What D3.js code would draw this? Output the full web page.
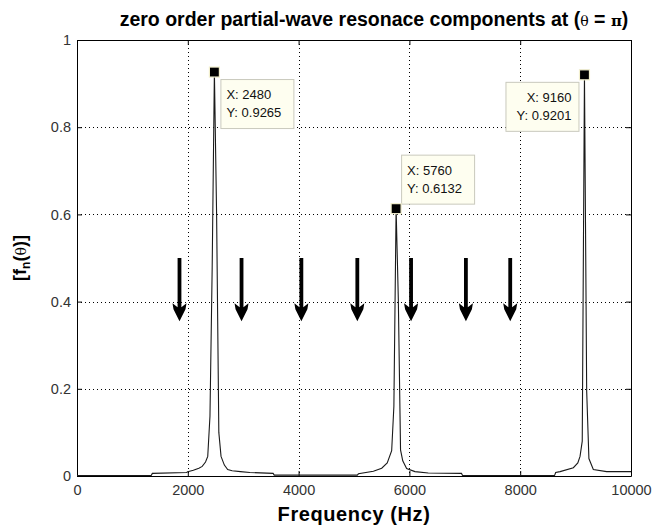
<!DOCTYPE html>
<html>
<head>
<meta charset="utf-8">
<script src="https://cdn.jsdelivr.net/npm/d3@7"></script>
<style>
  html, body { margin: 0; padding: 0; background: #fff; }
  svg { display: block; font-family: "Liberation Sans", Arial, sans-serif; }
</style>
</head>
<body>
<svg id="chart" width="652" height="527"></svg>
<script>
// ---- data ----
const frequency = [0, 1340, 1360, 1980, 2000, 2100, 2200, 2260, 2320, 2360, 2400, 2440, 2480, 2520, 2560, 2600, 2660, 2720, 2800, 2950, 3120, 3540, 3560,
  5060, 5080, 5350, 5500, 5600, 5680, 5720, 5760, 5800, 5840, 5880, 5950, 6100, 6340, 6940, 6960,
  8620, 8640, 8720, 8960, 9040, 9080, 9120, 9160, 9200, 9240, 9320, 9560, 10000];
const amplitude = [0.001, 0.001, 0.006, 0.008, 0.010, 0.013, 0.018, 0.022, 0.032, 0.045, 0.137, 0.477, 0.9265, 0.600, 0.100, 0.045, 0.025, 0.015, 0.012, 0.010, 0.008, 0.006, 0.002,
  0.002, 0.005, 0.011, 0.018, 0.030, 0.058, 0.160, 0.6132, 0.406, 0.060, 0.035, 0.017, 0.010, 0.007, 0.006, 0.001,
  0.001, 0.008, 0.010, 0.019, 0.030, 0.045, 0.080, 0.9201, 0.195, 0.040, 0.015, 0.010, 0.010];

const xTicks = [0, 2000, 4000, 6000, 8000, 10000];
const xTickLabels = ["0", "2000", "4000", "6000", "8000", "10000"];
const yTicks = [0, 0.2, 0.4, 0.6, 0.8, 1];
const yTickLabels = ["0", "0.2", "0.4", "0.6", "0.8", "1"];

const tipX = [2480, 5760, 9160];
const tipY = [0.9265, 0.6132, 0.9201];
const tipLabelX = ["X: 2480", "X: 5760", "X: 9160"];
const tipLabelY = ["Y: 0.9265", "Y: 0.6132", "Y: 0.9201"];

const arrowX = [1850, 2970, 4050, 5060, 6030, 7020, 7820];
const arrowTop = 0.5;
const arrowTip = 0.355;

const titleText = "zero order partial-wave resonace components at (";
const xLabel = "Frequency (Hz)";

// ---- layout ----
const svg = d3.select("#chart");
const L = 77, R = 631, T = 40, B = 476;
const x = d3.scaleLinear().domain([0, 10000]).range([L, R]);
const y = d3.scaleLinear().domain([0, 1]).range([B, T]);

// grid (dotted)
const grid = svg.append("g").attr("stroke", "#000").attr("stroke-width", 1).attr("stroke-dasharray", "1,3");
grid.selectAll("line.gx").data(xTicks.slice(1, -1)).join("line")
  .attr("x1", d => Math.round(x(d)) + 0.5).attr("x2", d => Math.round(x(d)) + 0.5)
  .attr("y1", T).attr("y2", B);
grid.selectAll("line.gy").data(yTicks.slice(1, -1)).join("line")
  .attr("y1", d => Math.round(y(d)) + 0.5).attr("y2", d => Math.round(y(d)) + 0.5)
  .attr("x1", L).attr("x2", R);

// axes with inward ticks
const fmtX = (d, i) => xTickLabels[i];
const fmtY = (d, i) => yTickLabels[i];
const axB = svg.append("g").attr("transform", `translate(0,${B})`)
  .call(d3.axisBottom(x).tickValues(xTicks).tickFormat(fmtX).tickSizeInner(-5).tickSizeOuter(0).tickPadding(9));
const axT = svg.append("g").attr("transform", `translate(0,${T})`)
  .call(d3.axisTop(x).tickValues(xTicks).tickFormat("").tickSizeInner(-5).tickSizeOuter(0));
const axL = svg.append("g").attr("transform", `translate(${L},0)`)
  .call(d3.axisLeft(y).tickValues(yTicks).tickFormat(fmtY).tickSizeInner(-5).tickSizeOuter(0).tickPadding(6));
const axR = svg.append("g").attr("transform", `translate(${R},0)`)
  .call(d3.axisRight(y).tickValues(yTicks).tickFormat("").tickSizeInner(-5).tickSizeOuter(0));
[axB, axT, axL, axR].forEach(a => {
  a.select(".domain").attr("stroke", "#000");
  a.selectAll(".tick line").attr("stroke", "#000");
  a.selectAll("text").attr("font-family", "'Liberation Sans', Arial, sans-serif")
    .attr("font-size", 14.5).attr("fill", "#333");
});

// curve
const line = d3.line().x((d, i) => x(frequency[i])).y(d => y(d));
svg.append("path").datum(amplitude)
  .attr("d", line).attr("fill", "none").attr("stroke", "#1a1a1a").attr("stroke-width", 1.1);

// arrows
const arrows = svg.append("g").attr("fill", "#000");
arrows.selectAll("path").data(arrowX).join("path")
  .attr("d", d => {
    const cx = x(d), y0 = y(arrowTop), y1 = y(arrowTip);
    const hb = y1 - 18; // head back
    return `M${cx - 1.9},${y0} L${cx + 1.9},${y0} L${cx + 1.9},${hb + 4} L${cx + 7},${hb} L${cx + 6},${hb + 6} L${cx},${y1} L${cx - 6},${hb + 6} L${cx - 7},${hb} L${cx - 1.9},${hb + 4} Z`;
  });

// data tips
const tipGroup = svg.append("g").attr("font-family", "'Liberation Sans', Arial, sans-serif").attr("font-size", 13).attr("fill", "#111");
const boxW = 73, boxH = 49;
tipX.forEach((fx, i) => {
  const mx = x(fx), my = y(tipY[i]);
  let bx, by, anchor, tx;
  if (i === 0) { bx = mx + 6; by = my + 7; anchor = "start"; tx = bx + 6; }
  else if (i === 1) { bx = mx + 5; by = my - 5 - boxH; anchor = "start"; tx = bx + 6; }
  else { bx = mx - 6 - boxW; by = my + 7; anchor = "end"; tx = bx + boxW - 7; }
  tipGroup.append("rect").attr("x", bx + 0.5).attr("y", by + 0.5).attr("width", boxW).attr("height", boxH)
    .attr("fill", "#fefef0").attr("stroke", "#c9c9bd").attr("stroke-width", 1);
  tipGroup.append("text").attr("x", tx).attr("y", by + 20).attr("text-anchor", anchor).text(tipLabelX[i]);
  tipGroup.append("text").attr("x", tx).attr("y", by + 38).attr("text-anchor", anchor).text(tipLabelY[i]);
  tipGroup.append("rect").attr("x", mx - 5).attr("y", my - 5).attr("width", 10).attr("height", 10)
    .attr("fill", "#000").attr("stroke", "#f3f0cf").attr("stroke-width", 1.2);
});

// title
const title = svg.append("text").attr("x", 374).attr("y", 26).attr("text-anchor", "middle")
  .attr("font-size", 19.5).attr("font-weight", "bold").attr("fill", "#000");
title.append("tspan").text(titleText);
title.append("tspan").attr("font-weight", "normal").attr("font-family", "'DejaVu Serif', serif").attr("font-size", 14).text("θ");
title.append("tspan").text(" = ");
title.append("tspan").attr("font-family", "'DejaVu Serif', serif").attr("font-size", 15).text("π");
title.append("tspan").text(")");

// x label
svg.append("text").attr("x", (L + R) / 2).attr("y", 521).attr("text-anchor", "middle")
  .attr("font-size", 20).attr("font-weight", "bold").attr("letter-spacing", 0.6).text(xLabel);

// y label
const yl = svg.append("text").attr("transform", `translate(26,258) rotate(-90)`).attr("text-anchor", "middle")
  .attr("font-size", 18).attr("font-weight", "bold");
yl.append("tspan").text("[f");
yl.append("tspan").attr("font-size", 12).attr("dy", 4).text("n");
yl.append("tspan").attr("dy", -4).text("(");
yl.append("tspan").attr("font-weight", "normal").attr("font-family", "'DejaVu Serif', serif").attr("font-size", 14).text("θ");
yl.append("tspan").text(")]");
</script>
</body>
</html>
